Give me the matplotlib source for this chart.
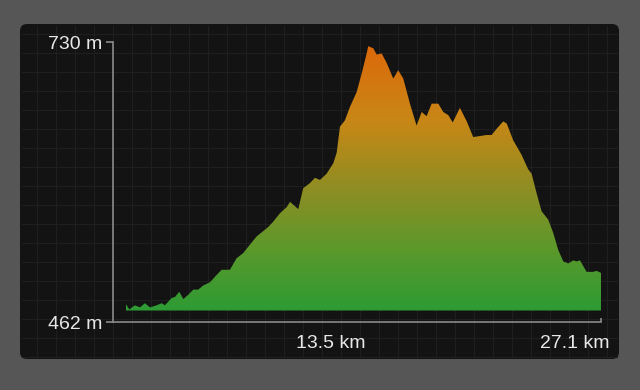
import numpy as np
import matplotlib
matplotlib.use("Agg")
import matplotlib.pyplot as plt
from matplotlib.colors import LinearSegmentedColormap
from matplotlib.patches import FancyBboxPatch, Polygon

plt.rcParams["font.family"] = ["Liberation Sans", "DejaVu Sans"]

# elevation profile (distance in km, elevation in m)
dist_km = [0.0, 0.19, 0.51, 0.80, 1.08, 1.37, 1.75, 2.04, 2.22, 2.61,
           2.80, 3.04, 3.27, 3.55, 3.84, 4.12, 4.41, 4.79, 5.17, 5.46,
           5.93, 6.31, 6.69, 7.07, 7.46, 7.83, 8.12, 8.40, 8.78, 9.17,
           9.36, 9.83, 10.11, 10.50, 10.78, 11.07, 11.45, 11.83, 12.02, 12.21,
           12.49, 12.78, 13.16, 13.45, 13.73, 13.82, 14.11, 14.30, 14.59, 14.87,
           15.25, 15.53, 15.82, 16.20, 16.58, 16.87, 17.15, 17.44, 17.82, 18.10,
           18.39, 18.64, 19.05, 19.44, 19.81, 20.58, 20.86, 21.15, 21.52, 21.72,
           22.09, 22.57, 22.95, 23.14, 23.43, 23.71, 24.09, 24.38, 24.66, 24.95,
           25.23, 25.52, 25.71, 25.90, 26.28, 26.66, 26.85, 27.1]
elev_m = [479, 474, 478, 476, 480, 476, 478, 480, 478, 485,
          486, 491, 484, 488, 493, 493, 497, 500, 507, 512,
          512, 523, 528, 536, 544, 549, 553, 558, 566, 572,
          577, 570, 590, 595, 600, 598, 604, 614, 624, 649,
          655, 668, 682, 700, 719, 726, 724, 718, 719, 710,
          695, 703, 695, 671, 650, 663, 659, 671, 671, 663,
          660, 653, 667, 654, 639, 641, 641, 647, 654, 652,
          636, 622, 608, 604, 585, 568, 560, 547, 531, 520,
          518, 521, 520, 521, 510, 510, 511, 509]
base_m = 473

y_ticks = [462, 730]
y_labels = ["462 m", "730 m"]
x_ticks = [13.5, 27.1]
x_labels = ["13.5 km", "27.1 km"]

W, H = 640, 390
fig = plt.figure(figsize=(W / 100, H / 100), dpi=100)
fig.patch.set_facecolor("#565656")

# background: rounded dark panel with faint grid, drawn in pixel space
bg = fig.add_axes([0, 0, 1, 1])
bg.set_xlim(0, W)
bg.set_ylim(H, 0)
bg.axis("off")
px0, py0, px1, py1 = 20, 24, 619, 359
panel = FancyBboxPatch((px0, py0), px1 - px0, py1 - py0,
                       boxstyle="round,pad=0,rounding_size=7",
                       facecolor="#131313", edgecolor="none")
bg.add_patch(panel)
for gx in np.arange(px0 + 17, px1, 19):
    bg.plot([gx, gx], [py0 + 2, py1 - 2], color="#1f1f1f", lw=0.8, zorder=1)
for gy in np.arange(py0 + 10, py1, 19):
    bg.plot([px0 + 2, px1 - 2], [gy, gy], color="#1f1f1f", lw=0.8, zorder=1)

# main chart
ax = fig.add_axes([113 / W, 68 / H, 488 / W, 280 / H])
ax.set_facecolor("none")

cmap = LinearSegmentedColormap.from_list("elev", [
    (0.0, (45 / 255, 155 / 255, 52 / 255)),
    (0.25, (95 / 255, 152 / 255, 42 / 255)),
    (0.45, (140 / 255, 142 / 255, 36 / 255)),
    (0.72, (200 / 255, 135 / 255, 22 / 255)),
    (1.0, (220 / 255, 105 / 255, 10 / 255)),
])
top = max(elev_m)
grad = np.linspace(0, 1, 256).reshape(-1, 1)
img = ax.imshow(grad, cmap=cmap, origin="lower", aspect="auto",
                extent=[dist_km[0], dist_km[-1], base_m, top], zorder=2)
verts = [(dist_km[0], base_m)] + list(zip(dist_km, elev_m)) + [(dist_km[-1], base_m)]
poly = Polygon(verts, closed=True, facecolor="none", edgecolor="none")
ax.add_patch(poly)
img.set_clip_path(poly)
ax.set_xlim(-0.74, 27.1)
ax.set_ylim(462, 730)

for s in ["top", "right"]:
    ax.spines[s].set_visible(False)
for s in ["left", "bottom"]:
    ax.spines[s].set_color("#8a8a8a")
    ax.spines[s].set_linewidth(1.2)

ax.set_yticks(y_ticks)
ax.set_yticklabels(y_labels)
ax.tick_params(axis="y", direction="out", length=5, width=1.2, color="#8a8a8a",
               labelcolor="#e8e8e8", labelsize=14, pad=3)

ax.set_xticks(x_ticks)
ax.set_xticklabels([])
ax.tick_params(axis="x", direction="in", length=3, width=1.2, color="#8a8a8a")
ax.xaxis.get_major_ticks()[0].tick1line.set_visible(False)
offsets = [3, 9]
for xv, lab, off in zip(x_ticks, x_labels, offsets):
    ax.annotate(lab, xy=(xv, 0), xycoords=("data", "axes fraction"),
                xytext=(off * 0.72, -9), textcoords="offset points",
                ha="right", va="top", color="#e8e8e8", fontsize=14)

fig.savefig("out.png", dpi=100, facecolor=fig.get_facecolor())
